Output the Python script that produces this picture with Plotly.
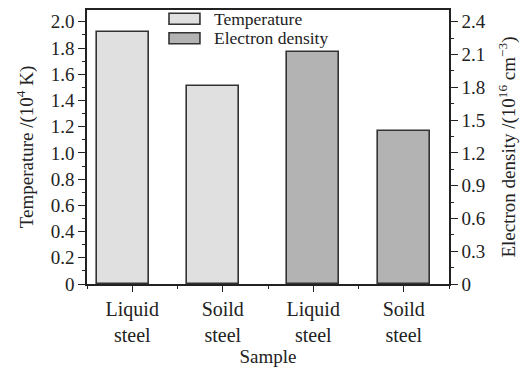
import plotly.graph_objects as go

samples = ["Liquid<br>steel", "Soild<br>steel", "Liquid<br>steel", "Soild<br>steel"]
sample_pos = [0, 1, 2, 3]
temperature = [1.92, 1.51]          # 10^4 K
electron_density = [2.12, 1.40]     # 10^16 cm^-3
temp_ticks = [0, 0.2, 0.4, 0.6, 0.8, 1.0, 1.2, 1.4, 1.6, 1.8, 2.0]
temp_tick_text = ["0", "0.2", "0.4", "0.6", "0.8", "1.0", "1.2", "1.4", "1.6", "1.8", "2.0"]
dens_ticks = [0, 0.3, 0.6, 0.9, 1.2, 1.5, 1.8, 2.1, 2.4]
dens_tick_text = ["0", "0.3", "0.6", "0.9", "1.2", "1.5", "1.8", "2.1", "2.4"]
series_names = ["Temperature", "Electron density"]
series_colors = ["#e0e0e0", "#b3b3b3"]

FONT = "Liberation Serif, Times New Roman, serif"
EDGE = "#333333"
AX = "#222222"

fig = go.Figure()
fig.add_trace(go.Bar(
    x=sample_pos[:2], y=temperature, name=series_names[0],
    marker=dict(color=series_colors[0], line=dict(color=EDGE, width=1.6)),
    width=0.575, offset=-0.39, yaxis="y", showlegend=False,
))
fig.add_trace(go.Bar(
    x=sample_pos[2:], y=electron_density, name=series_names[1],
    marker=dict(color=series_colors[1], line=dict(color=EDGE, width=1.6)),
    width=0.575, offset=-0.2875, yaxis="y2", showlegend=False,
))

# legend drawn as wide swatches (paper coordinates)
shapes = []
annotations = []
rows_y = [0.968, 0.897]
for name, col, yc in zip(series_names, series_colors, rows_y):
    shapes.append(dict(type="rect", xref="paper", yref="paper",
                       x0=0.2265, x1=0.312, y0=yc - 0.02, y1=yc + 0.02,
                       fillcolor=col, line=dict(color=EDGE, width=1.6)))
    annotations.append(dict(xref="paper", yref="paper", x=0.345, y=yc,
                            xanchor="left", yanchor="middle", showarrow=False,
                            text=name, font=dict(size=17.5, family=FONT, color="#222")))

fig.update_layout(
    width=527, height=370,
    margin=dict(l=87, r=78, t=10, b=86),
    paper_bgcolor="white", plot_bgcolor="white",
    font=dict(family=FONT, size=19, color="#222"),
    showlegend=False,
    shapes=shapes, annotations=annotations,
    xaxis=dict(
        range=[-0.5, 3.5], tickmode="array", tickvals=sample_pos, ticktext=samples,
        showline=True, linecolor=AX, linewidth=1.6, mirror=True,
        ticks="outside", ticklen=6, tickwidth=1, tickcolor=AX,
        minor=dict(tickmode="linear", tick0=-0.5, dtick=1, ticks="outside",
                   ticklen=3, tickcolor=AX),
        showgrid=False, zeroline=False, automargin=False,
        tickfont=dict(size=20),
        title=dict(text="Sample", font=dict(size=19), standoff=4),
    ),
    yaxis=dict(
        range=[0, 2.09], tickmode="array", tickvals=temp_ticks, ticktext=temp_tick_text,
        showline=True, linecolor=AX, linewidth=1.6, mirror=True,
        ticks="outside", ticklen=7, tickwidth=1, tickcolor=AX,
        minor=dict(tickmode="linear", tick0=0, dtick=0.1, ticks="outside", ticklen=3,
                   tickcolor=AX),
        showgrid=False, zeroline=False, automargin=False,
        tickfont=dict(size=19),
        title=dict(text="Temperature /(10<sup>4</sup> K)", font=dict(size=19), standoff=12),
    ),
    yaxis2=dict(
        range=[0, 2.508], overlaying="y", side="right",
        tickmode="array", tickvals=dens_ticks, ticktext=dens_tick_text,
        showline=True, linecolor=AX, linewidth=1.6,
        ticks="outside", ticklen=7, tickwidth=1, tickcolor=AX,
        minor=dict(tickmode="linear", tick0=0, dtick=0.15, ticks="outside", ticklen=3,
                   tickcolor=AX),
        showgrid=False, zeroline=False, automargin=False,
        tickfont=dict(size=19),
        title=dict(text="Electron density /(10<sup>16</sup> cm<sup>−3</sup>)",
                   font=dict(size=19), standoff=17),
    ),
    bargap=0,
)
fig.write_html("out.html")
